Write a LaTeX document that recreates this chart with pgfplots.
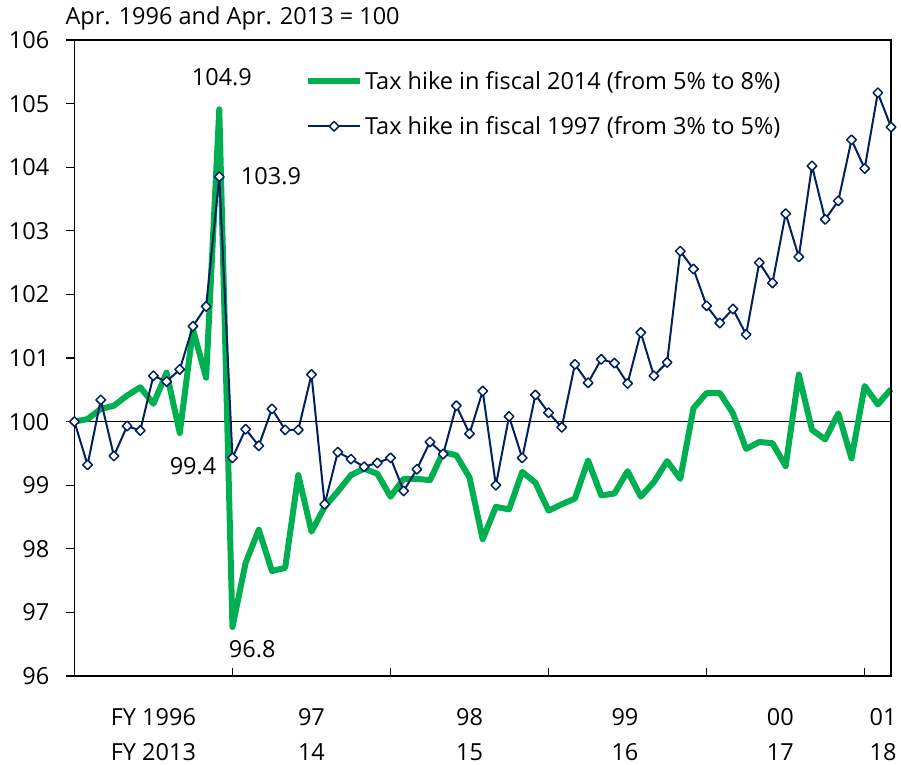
\documentclass[border=0pt]{standalone}
\usepackage{fontspec}
\setmainfont{Open Sans}
\usepackage{pgfplots}
\pgfplotsset{compat=1.18}
\definecolor{taxgreen}{RGB}{0,176,80}
\definecolor{taxnavy}{RGB}{0,32,96}
\newcommand\cf{\fontsize{23.5}{28}\selectfont}
\pgfplotsset{
  longleg/.style={legend image code/.code={%
    \draw[mark repeat=2, mark phase=2, ##1] plot coordinates {(0pt,0pt)(26pt,0pt)(52pt,0pt)};}},
}

\pgfplotstableread{
i v
0 100.00
1 100.04
2 100.20
3 100.25
4 100.41
5 100.54
6 100.28
7 100.77
8 99.82
9 101.45
10 100.69
11 104.91
12 96.77
13 97.78
14 98.30
15 97.65
16 97.70
17 99.16
18 98.27
19 98.66
20 98.90
21 99.16
22 99.26
23 99.18
24 98.82
25 99.10
26 99.10
27 99.08
28 99.52
29 99.47
30 99.12
31 98.15
32 98.66
33 98.62
34 99.21
35 99.04
36 98.60
37 98.70
38 98.79
39 99.39
40 98.84
41 98.87
42 99.22
43 98.82
44 99.05
45 99.38
46 99.10
47 100.21
48 100.45
49 100.45
50 100.13
51 99.57
52 99.68
53 99.66
54 99.30
55 100.74
56 99.87
57 99.72
58 100.13
59 99.42
60 100.56
61 100.27
62 100.51
}\hikefourteen

\pgfplotstableread{
i v
0 100.00
1 99.32
2 100.34
3 99.46
4 99.93
5 99.86
6 100.72
7 100.63
8 100.82
9 101.50
10 101.81
11 103.85
12 99.43
13 99.88
14 99.62
15 100.20
16 99.87
17 99.87
18 100.74
19 98.70
20 99.52
21 99.41
22 99.29
23 99.35
24 99.43
25 98.91
26 99.25
27 99.68
28 99.49
29 100.25
30 99.81
31 100.48
32 99.00
33 100.08
34 99.43
35 100.42
36 100.14
37 99.91
38 100.90
39 100.61
40 100.98
41 100.92
42 100.60
43 101.40
44 100.72
45 100.93
46 102.68
47 102.40
48 101.82
49 101.55
50 101.77
51 101.37
52 102.50
53 102.18
54 103.27
55 102.59
56 104.02
57 103.18
58 103.47
59 104.43
60 103.98
61 105.17
62 104.63
}\hikeninetyseven

\begin{document}
\begin{tikzpicture}
\begin{axis}[
  scale only axis,
  width=816.6pt, height=636pt,
  at={(0pt,0pt)}, anchor=south west,
  clip=false,
  xmin=0, xmax=62,
  ymin=96, ymax=106,
  ytick={96,97,...,106},
  xtick={12,24,36,48,60},
  xticklabels={},
  axis line style={line width=1.2pt, black},
  every tick/.style={line width=1.2pt, black},
  major tick length=8pt,
  x tick style={/pgfplots/tick align=inside},
  y tick style={/pgfplots/tick align=outside},
  xtick pos=bottom, ytick pos=left,
  yticklabel style={font=\cf, inner sep=0pt, anchor=east, xshift=-25pt},
  /pgf/number format/assume math mode=true,
  legend style={draw=none, fill=none, font=\cf, at={(axis cs:17.5,105.0)}, anchor=west,
    row sep=22pt, inner sep=0pt, nodes={inner sep=2pt, anchor=west}},
  legend cell align=left,
  longleg,
]
\draw[black, line width=1.3pt] (axis cs:0,100) -- (axis cs:62,100);

\addplot[taxgreen, line width=6pt, line join=round]
  table[x=i, y=v] {\hikefourteen};
\addlegendentry{Tax hike in fiscal 2014 (from 5\% to 8\%)}

\addplot[taxnavy, line width=2pt, line join=round,
  mark=square*, mark size=3.4pt,
  mark options={fill=white, draw=taxnavy, line width=1.5pt, rotate=45}]
  table[x=i, y=v] {\hikeninetyseven};
\addlegendentry{Tax hike in fiscal 1997 (from 3\% to 5\%)}

% frame: top and right edges
\draw[black, line width=1.4pt] (axis cs:0,106) -- (axis cs:62,106) -- (axis cs:62,96);

\node[font=\cf] at (axis cs:11.2,105.42) {104.9};
\node[font=\cf, anchor=west, inner sep=0pt] at (axis cs:12.63,103.86) {103.9};
\node[font=\cf, anchor=east, inner sep=0pt] at (axis cs:10.79,99.30) {99.4};
\node[font=\cf] at (axis cs:13.5,96.42) {96.8};

\node[font=\cf, anchor=base west] at ([xshift=-12.4pt, yshift=15pt]rel axis cs:0,1) {Apr. 1996 and Apr. 2013 = 100};

\node[font=\cf, anchor=base] at ([yshift=-49pt]axis cs:6,96) {FY 1996};
\node[font=\cf, anchor=base] at ([yshift=-84pt]axis cs:6,96) {FY 2013};
\node[font=\cf, anchor=base] at ([yshift=-49pt]axis cs:18,96) {97};
\node[font=\cf, anchor=base] at ([yshift=-84pt]axis cs:18,96) {14};
\node[font=\cf, anchor=base] at ([yshift=-49pt]axis cs:30,96) {98};
\node[font=\cf, anchor=base] at ([yshift=-84pt]axis cs:30,96) {15};
\node[font=\cf, anchor=base] at ([yshift=-49pt]axis cs:41.8,96) {99};
\node[font=\cf, anchor=base] at ([yshift=-84pt]axis cs:41.8,96) {16};
\node[font=\cf, anchor=base] at ([yshift=-49pt]axis cs:53.6,96) {00};
\node[font=\cf, anchor=base] at ([yshift=-84pt]axis cs:53.6,96) {17};
\node[font=\cf, anchor=base] at ([yshift=-49pt]axis cs:61.4,96) {01};
\node[font=\cf, anchor=base] at ([yshift=-84pt]axis cs:61.4,96) {18};
\end{axis}
\useasboundingbox (-74.4pt,-88pt) rectangle (826.6pt,676pt);
\end{tikzpicture}
\end{document}
